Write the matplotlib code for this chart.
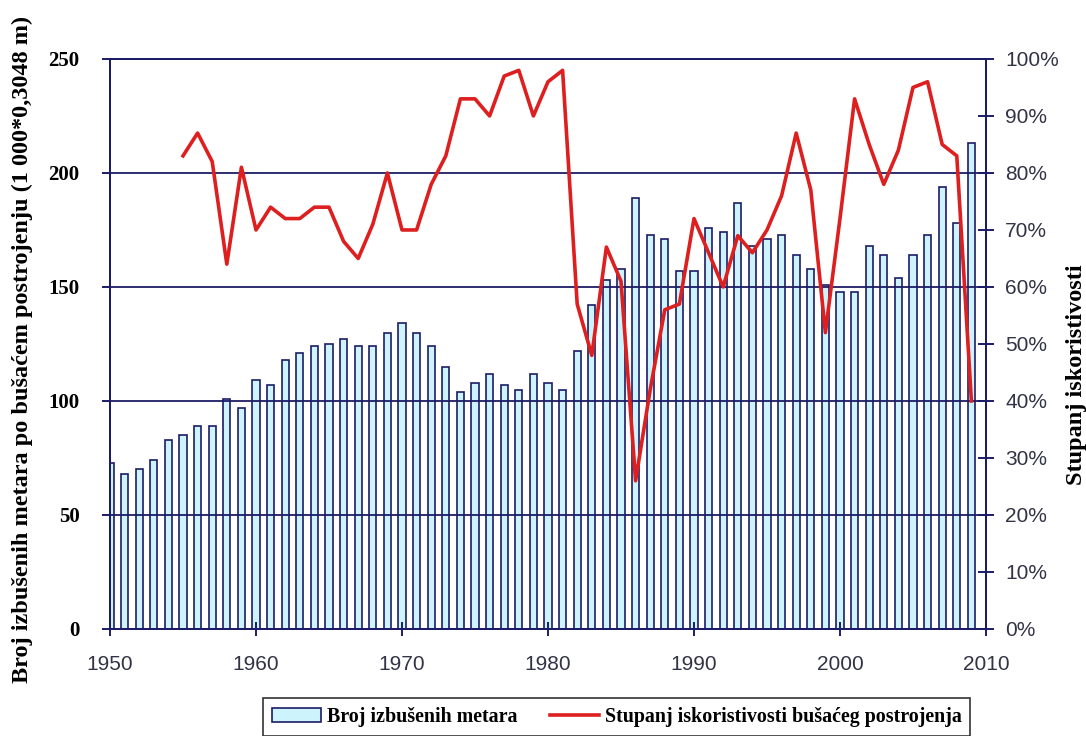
import numpy as np
import matplotlib
matplotlib.use('Agg')
import matplotlib.pyplot as plt
from matplotlib.ticker import FuncFormatter

# data
years = list(range(1950, 2010))
metri = [73, 68, 70, 74, 83, 85, 89, 89, 101, 97,
         109, 107, 118, 121, 124, 125, 127, 124, 124, 130,
         134, 130, 124, 115, 104, 108, 112, 107, 105, 112,
         108, 105, 122, 142, 153, 158, 189, 173, 171, 157,
         157, 176, 174, 187, 168, 171, 173, 164, 158, 151,
         148, 148, 168, 164, 154, 164, 173, 194, 178, 213]

god_stupanj = list(range(1955, 2010))
stupanj = [83, 87, 82, 64, 81, 70, 74, 72, 72, 74,
           74, 68, 65, 71, 80, 70, 70, 78, 83, 93,
           93, 90, 97, 98, 90, 96, 98, 57, 48, 67,
           61, 26, 42, 56, 57, 72, 66, 60, 69, 66,
           70, 76, 87, 77, 52, 72, 93, 85, 78, 84,
           95, 96, 85, 83, 40]
stupanj = [s / 100 for s in stupanj]

navy = '#1c1c66'
serif = ['Liberation Serif', 'DejaVu Serif']
sans = ['Liberation Sans', 'DejaVu Sans']

fig = plt.figure(figsize=(10.86, 7.36), dpi=100)
ax = fig.add_axes([0.1013, 0.1454, 0.8066, 0.7745])
par = ax.twinx()

b = ax.bar(years, metri, width=0.5, color='#cdf3fc', edgecolor=navy,
           linewidth=1.2, label='Broj izbušenih metara', zorder=2)
l, = par.plot(god_stupanj, stupanj, color='#dd1f1f', lw=2.6,
              label='Stupanj iskoristivosti bušaćeg postrojenja')

ax.set_xlim(1950, 2010)
ax.set_ylim(0, 250)
par.set_ylim(0, 1)
ax.set_xticks(range(1950, 2011, 10))
ax.set_yticks(range(0, 251, 50))
par.set_yticks(np.arange(0, 1.01, 0.1))
par.yaxis.set_major_formatter(FuncFormatter(lambda v, p: '%d%%' % round(v * 100)))

ax.yaxis.grid(True, color=navy, lw=1.3, zorder=3)
ax.set_axisbelow(False)

for a in (ax, par):
    for sp in a.spines.values():
        sp.set_color(navy)
        sp.set_linewidth(1.4)

ax.tick_params(axis='x', direction='inout', length=10, color=navy, width=1.4,
               labelsize=15, labelcolor='#333347', pad=14)
ax.tick_params(axis='y', direction='out', length=6, color=navy, width=1.4,
               labelsize=15, pad=16)
par.tick_params(axis='y', direction='inout', length=11.5, color=navy, width=1.4,
                labelsize=15, labelcolor='#333347', pad=8)
for t in ax.get_xticklabels() + par.get_yticklabels():
    t.set_family(sans)
for t in ax.get_yticklabels():
    t.set_family(serif)
    t.set_fontweight('bold')

ax.set_ylabel('Broj izbušenih metara po bušaćem postrojenju (1 000*0,3048 m)',
              family=serif, fontweight='bold', fontsize=17.5)
ax.yaxis.set_label_coords(-0.088, 0.49)
par.set_ylabel('Stupanj iskoristivosti', family=serif, fontweight='bold',
               fontsize=17.5)
par.yaxis.set_label_coords(1.091, 0.446)

leg = fig.legend([b, l], [b.get_label(), l.get_label()], ncol=2,
                 loc='upper left', bbox_to_anchor=(0.2422, 0.0516),
                 prop={'family': serif, 'weight': 'bold', 'size': 14.4},
                 frameon=True, fancybox=False, edgecolor='black',
                 handlelength=2.45, handletextpad=0.3, columnspacing=1.6,
                 borderpad=0.45, borderaxespad=0)
leg.get_frame().set_linewidth(1.2)

fig.savefig('out.png', dpi=100)
